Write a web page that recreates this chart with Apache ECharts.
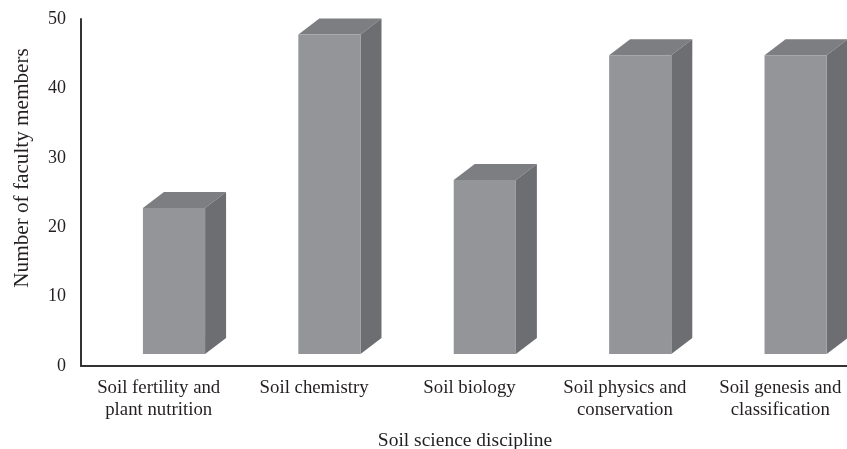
<!DOCTYPE html>
<html><head><meta charset="utf-8">
<style>html,body{margin:0;padding:0;background:#fff}#c{width:847px;height:449px}</style>
<script src="https://cdn.jsdelivr.net/npm/echarts@6/dist/echarts.min.js"></script>
</head><body><div id="c"></div>
<script>
const categories = ['Soil fertility and\nplant nutrition','Soil chemistry','Soil biology','Soil physics and\nconservation','Soil genesis and\nclassification'];
const facultyMembers = [23,48,27,45,45];
const yTicks = [0,10,20,30,40,50];

const FONT = '"Liberation Serif","Times New Roman",serif';
const TXT = '#231f20';
const chart = echarts.init(document.getElementById('c'),null,{renderer:'canvas'});
function renderBar(params,api){
  const idx = api.value(0);
  const top = api.coord([idx,api.value(1)]);
  const base = api.coord([idx,0]);
  const band = api.size([1,0])[0];
  const w = band*0.4, cx = top[0]+band*0.0985;
  const x0 = cx-w/2, x1 = cx+w/2;
  const yT = top[1]+1.5, yB = base[1]-12;
  const dx = 21, dy = 16;
  return {type:'group',children:[
    {type:'polygon',shape:{points:[[x0,yT],[x0+dx,yT-dy],[x1+dx,yT-dy],[x1,yT]]},style:{fill:'#7d7e81'}},
    {type:'polygon',shape:{points:[[x1,yT],[x1+dx,yT-dy],[x1+dx,yB-dy],[x1,yB]]},style:{fill:'#6d6e71'}},
    {type:'rect',shape:{x:x0,y:yT,width:w,height:yB-yT},style:{fill:'#939598'}}
  ]};
}
chart.setOption({
  animation:false,
  backgroundColor:'#fff',
  grid:{left:81,right:-11,top:19,bottom:83,containLabel:false,outerBoundsMode:'none'},
  xAxis:{type:'category',data:categories,
    axisLine:{lineStyle:{color:'#333',width:2}},axisTick:{show:false},
    axisLabel:{color:TXT,fontFamily:FONT,fontSize:18.8,lineHeight:22,margin:11,interval:0},
    name:'Soil science discipline',nameLocation:'middle',nameGap:65,
    nameTextStyle:{color:TXT,fontFamily:FONT,fontSize:19.5,padding:[0,9,0,0]}},
  yAxis:{type:'value',min:0,max:50,interval:10,
    axisLine:{show:true,lineStyle:{color:'#333',width:2}},axisTick:{show:false},splitLine:{show:false},
    axisLabel:{color:TXT,fontFamily:FONT,fontSize:18,margin:15,
      formatter:v=>yTicks.includes(v)?String(v):''},
    name:'Number of faculty members',nameLocation:'middle',nameGap:48,
    nameTextStyle:{color:TXT,fontFamily:FONT,fontSize:21.2,padding:[0,0,0,49]}},
  series:[{type:'custom',renderItem:renderBar,clip:false,
    encode:{x:0,y:1},data:facultyMembers.map((v,i)=>[i,v])}]
});
</script></body></html>
